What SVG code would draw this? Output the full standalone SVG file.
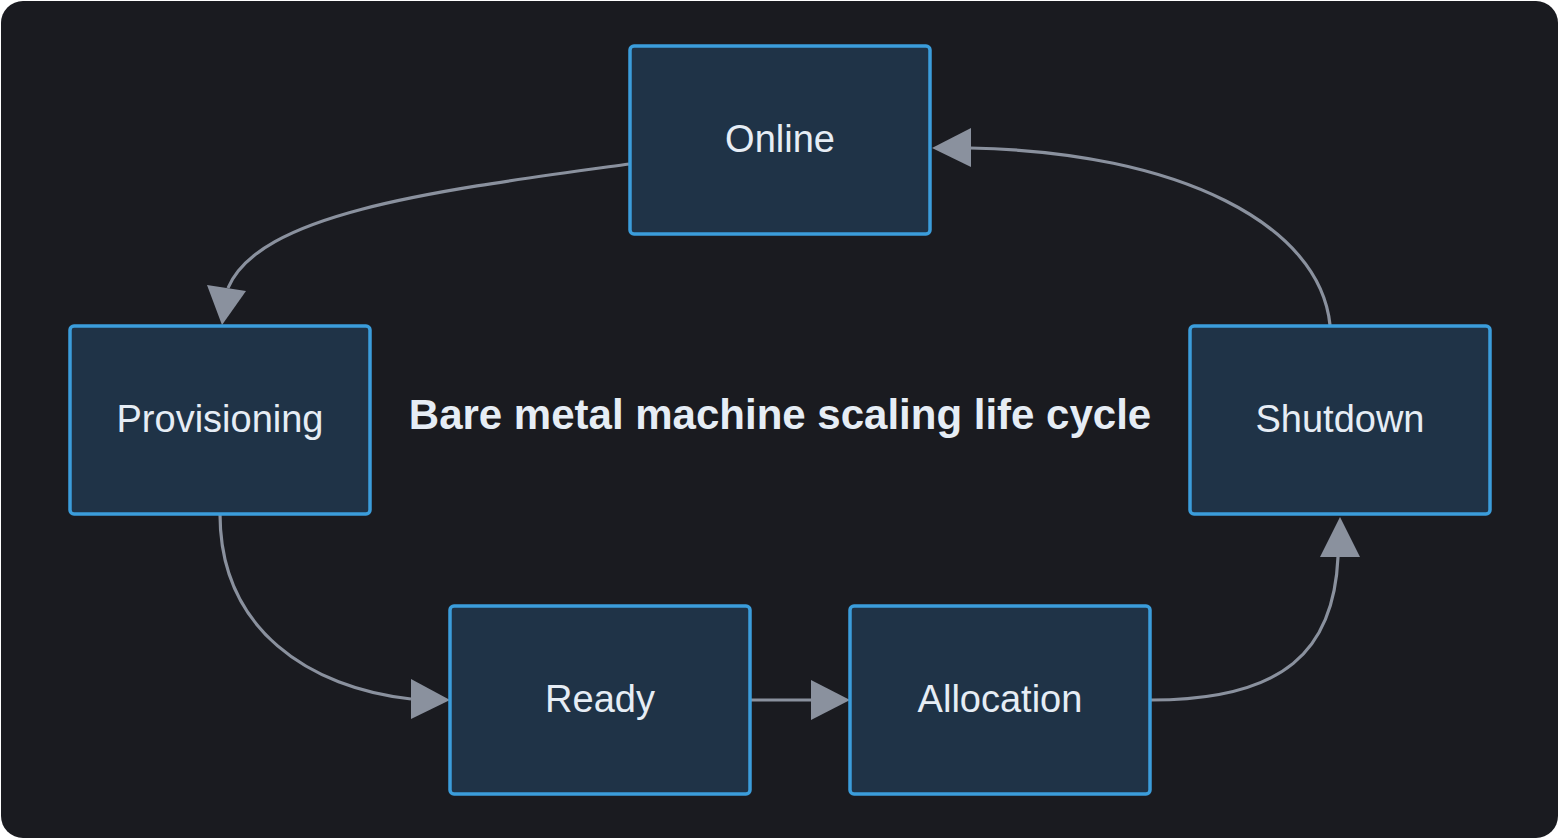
<svg xmlns="http://www.w3.org/2000/svg" width="1560" height="840" viewBox="0 0 1560 840">
<defs>
<style>
.node rect{fill:#1f3347;stroke:#3b9ddb;stroke-width:3.5}
.node text{font-family:"Liberation Sans",Arial,sans-serif;font-size:38px;fill:#e6edf5;text-anchor:middle}
.edge{fill:none;stroke:#8a919e;stroke-width:3.2}
.head{fill:#8a919e}
.title{font-family:"Liberation Sans",Arial,sans-serif;font-size:42px;font-weight:bold;fill:#e6edf5;text-anchor:middle}
</style>
</defs>
<rect x="0" y="0" width="1560" height="840" fill="#ffffff"/>
<rect x="1" y="1" width="1557" height="837" rx="22" fill="#1a1b20"/>
<g id="connectors">
<path class="edge" d="M629,164 C440,190 260,212 228,288" />
<path class="edge" d="M1330,325 C1320,225 1180,152 970,148" />
<path class="edge" d="M220,514 C220,630 310,688 411,699" />
<path class="edge" d="M751,700 L811,700" />
<path class="edge" d="M1151,700 C1285,700 1334,650 1338,557" />
<path class="head" d="M222,325 L207,285 L246,291 Z"/>
<path class="head" d="M932,148 L971,128 L971,167 Z"/>
<path class="head" d="M450,700 L411,679 L411,719 Z"/>
<path class="head" d="M850,700 L811,680 L811,720 Z"/>
<path class="head" d="M1340,517 L1320,557 L1360,557 Z"/>
</g>
<g id="online" class="node"><rect x="630" y="46" width="300" height="188" rx="4"/><text x="780" y="152">Online</text></g>
<g id="provisioning" class="node"><rect x="70" y="326" width="300" height="188" rx="4"/><text x="220" y="432">Provisioning</text></g>
<g id="shutdown" class="node"><rect x="1190" y="326" width="300" height="188" rx="4"/><text x="1340" y="432">Shutdown</text></g>
<g id="ready" class="node"><rect x="450" y="606" width="300" height="188" rx="4"/><text x="600" y="712">Ready</text></g>
<g id="allocation" class="node"><rect x="850" y="606" width="300" height="188" rx="4"/><text x="1000" y="712">Allocation</text></g>
<text class="title" x="780" y="429">Bare metal machine scaling life cycle</text>
</svg>
